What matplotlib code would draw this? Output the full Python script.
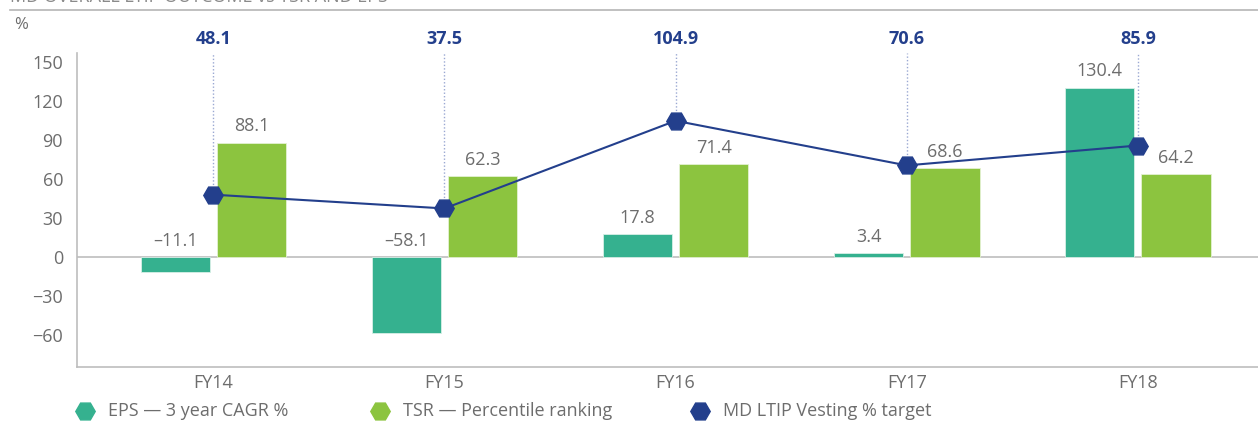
import numpy as np
import matplotlib.pyplot as plt
from matplotlib.lines import Line2D

# data
years = ["FY14", "FY15", "FY16", "FY17", "FY18"]
eps_cagr = [-11.1, -58.1, 17.8, 3.4, 130.4]
tsr_rank = [88.1, 62.3, 71.4, 68.6, 64.2]
md_vesting = [48.1, 37.5, 104.9, 70.6, 85.9]
yticks = [-60, -30, 0, 30, 60, 90, 120, 150]
legend_labels = ["EPS — 3 year CAGR %", "TSR — Percentile ranking", "MD LTIP Vesting % target"]

eps_col = "#35b18f"
tsr_col = "#8cc43f"
md_col = "#233f8c"
grey = "#6d6d6d"

plt.rcParams['font.family'] = ['Open Sans', 'DejaVu Sans']

fig = plt.figure(figsize=(12.58, 4.21), dpi=100)
ax = fig.add_axes([0.0612, 0.1283, 0.9388, 0.7457])

x = np.arange(len(years))
w = 0.30
off = 0.165

ax.bar(x - off, eps_cagr, w, color=eps_col, edgecolor="#d8efe7", linewidth=0.6, zorder=2)
ax.bar(x + off, tsr_rank, w, color=tsr_col, edgecolor="#e3f1d2", linewidth=0.6, zorder=2)

# bar value labels (negative EPS labels sit just above zero)
for xi, v in zip(x, eps_cagr):
    ax.text(xi - off, max(v, 0) + 5.5, f"{v:.1f}".replace("-", "–"), ha="center", va="bottom",
            fontsize=13, color=grey, zorder=4)
for xi, v in zip(x, tsr_rank):
    ax.text(xi + off, v + 5.5, f"{v:.1f}", ha="center", va="bottom",
            fontsize=13, color=grey, zorder=4)

# MD vesting line, dotted drop lines and labels above the axes
ax.plot(x, md_vesting, color=md_col, lw=1.5, marker="H", markersize=14,
        markeredgecolor=md_col, zorder=5, clip_on=False)
for xi, v in zip(x, md_vesting):
    ax.plot([xi, xi], [v, 157], color="#9aa8d2", lw=1, ls=(0, (1, 1.5)), zorder=1, clip_on=False)
    ax.text(xi, 161, f"{v:.1f}", ha="center", va="bottom", fontsize=13,
            fontweight="bold", color=md_col, clip_on=False)

ax.axhline(0, color="#bdbdbd", lw=1.2, zorder=1)
ax.set_xlim(-0.59, 4.52)
ax.set_ylim(-84.4, 157)
ax.set_yticks(yticks)
ax.set_xticks(x)
ax.set_xticklabels(years)
ax.tick_params(length=0, labelsize=13, colors=grey, pad=10)
ax.tick_params(axis="x", pad=5)
for s in ["top", "right"]:
    ax.spines[s].set_visible(False)
for s in ["left", "bottom"]:
    ax.spines[s].set_color("#bdbdbd")
    ax.spines[s].set_linewidth(1.2)

# header bits (title is cut off at the top edge in the original)
fig.text(0.008, 1 + 3 / 421, "MD OVERALL LTIP OUTCOME vs TSR AND EPS", fontsize=13,
         color="#8a8a8a", va="center", ha="left")
fig.add_artist(Line2D([0.008, 1.0], [1 - 10 / 421, 1 - 10 / 421], color="#b5b5b5", lw=1.2))
fig.text(0.011, 1 - 25 / 421, "%", fontsize=12, color=grey, va="center", ha="left")

# legend, placed item by item
leg_cols = [eps_col, tsr_col, md_col]
leg_x = [85, 380, 700]
ly = 1 - 411 / 421
for px, col, lab in zip(leg_x, leg_cols, legend_labels):
    fig.add_artist(Line2D([px / 1258], [ly], ls="", marker="H", markersize=14, color=col))
    fig.text((px + 23) / 1258, ly, lab, fontsize=13, color=grey, va="center", ha="left")

fig.savefig("out.png", dpi=100)
